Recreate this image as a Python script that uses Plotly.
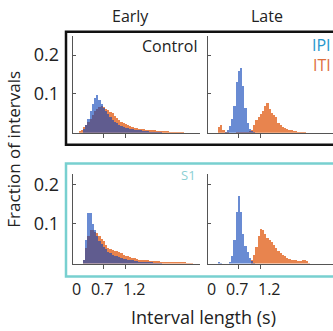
import plotly.graph_objects as go

# ---------------- data (fraction of intervals per 0.05 s bin) ----------------
BIN = 0.05

early_ctrl_ipi_start = 0.25
early_ctrl_ipi = [0.01, 0.02, 0.035, 0.055, 0.075, 0.09, 0.097, 0.085, 0.075, 0.065,
                  0.055, 0.048, 0.04, 0.034, 0.028, 0.024, 0.02, 0.017, 0.015, 0.013,
                  0.012, 0.01, 0.009, 0.008, 0.007, 0.006, 0.006, 0.005, 0.004, 0.004,
                  0.003, 0.003, 0.002, 0.002, 0.002, 0.001]
early_ctrl_iti_start = 0.15
early_ctrl_iti = [0.004, 0.008, 0.014, 0.02, 0.028, 0.036, 0.045, 0.055, 0.062, 0.066,
                  0.068, 0.066, 0.062, 0.058, 0.054, 0.05, 0.044, 0.038, 0.033, 0.029,
                  0.025, 0.022, 0.019, 0.017, 0.015, 0.013, 0.012, 0.011, 0.01, 0.009,
                  0.008, 0.008, 0.007, 0.006, 0.006, 0.005, 0.005, 0.005, 0.004, 0.004,
                  0.004, 0.003, 0.003, 0.003, 0.002, 0.002, 0.002, 0.002]

late_ctrl_ipi_start = 0.4
late_ctrl_ipi = [0.003, 0.008, 0.018, 0.035, 0.07, 0.13, 0.158, 0.168, 0.12, 0.065,
                 0.025, 0.01, 0.004, 0.002]
late_ctrl_iti_start = 0.2
late_ctrl_iti = [0.0, 0.015, 0.02, 0.008, 0.002, 0.001, 0.0, 0.0, 0.0, 0.001,
                 0.001, 0.002, 0.002, 0.002, 0.003, 0.004, 0.008, 0.02, 0.034, 0.042,
                 0.048, 0.056, 0.07, 0.078, 0.062, 0.052, 0.046, 0.04, 0.026, 0.02,
                 0.016, 0.012, 0.01, 0.008, 0.006, 0.005, 0.004, 0.003, 0.002, 0.002,
                 0.001]

early_s1_ipi_start = 0.25
early_s1_ipi = [0.008, 0.06, 0.128, 0.128, 0.1, 0.085, 0.07, 0.058, 0.05, 0.042,
                0.036, 0.03, 0.026, 0.023, 0.02, 0.018, 0.016, 0.014, 0.012, 0.011,
                0.01, 0.009, 0.008, 0.007, 0.006, 0.005, 0.005, 0.004, 0.004, 0.003,
                0.003, 0.003, 0.002, 0.002, 0.002, 0.002]
early_s1_iti_start = 0.25
early_s1_iti = [0.01, 0.04, 0.07, 0.085, 0.085, 0.08, 0.078, 0.07, 0.062, 0.056,
                0.046, 0.04, 0.036, 0.034, 0.033, 0.032, 0.03, 0.026, 0.022, 0.02,
                0.018, 0.016, 0.014, 0.013, 0.012, 0.01, 0.009, 0.009, 0.008, 0.008,
                0.007, 0.007, 0.006, 0.006, 0.006, 0.005, 0.005, 0.005, 0.004, 0.004,
                0.004, 0.004, 0.003, 0.003, 0.003, 0.003, 0.003, 0.002, 0.002, 0.002]

late_s1_ipi_start = 0.25
late_s1_ipi = [0.004, 0.002, 0.0, 0.0, 0.0, 0.003, 0.02, 0.06, 0.13, 0.17,
               0.13, 0.075, 0.045, 0.03, 0.015, 0.006, 0.002]
late_s1_iti_start = 1.0
late_s1_iti = [0.008, 0.022, 0.042, 0.07, 0.088, 0.085, 0.075, 0.065, 0.06, 0.054,
               0.046, 0.04, 0.032, 0.026, 0.022, 0.018, 0.015, 0.012, 0.01, 0.009,
               0.008, 0.007, 0.006, 0.008, 0.01, 0.006, 0.002]

x_tick_vals = [0, 0.7, 1.2]
x_tick_text = ["0", "0.7", "1.2"]
y_tick_vals = [0.1, 0.2]
y_tick_text = ["0.1", "0.2"]

# ---------------- styling ----------------
W, H = 333, 331
FONT = "Open Sans"
BLUE = "rgb(13,69,185)"
ORANGE = "rgb(232,132,78)"
AXC = "#555555"


def px(p):
    return p / W


def py(p):
    return 1 - p / H


def centers(start, vals):
    return [start + i * BIN for i in range(len(vals))]


fig = go.Figure()

panels = [
    ("x", "y", early_ctrl_iti_start, early_ctrl_iti, early_ctrl_ipi_start, early_ctrl_ipi),
    ("x2", "y2", late_ctrl_iti_start, late_ctrl_iti, late_ctrl_ipi_start, late_ctrl_ipi),
    ("x3", "y3", early_s1_iti_start, early_s1_iti, early_s1_ipi_start, early_s1_ipi),
    ("x4", "y4", late_s1_iti_start, late_s1_iti, late_s1_ipi_start, late_s1_ipi),
]
for xa, ya, s_iti, v_iti, s_ipi, v_ipi in panels:
    fig.add_trace(go.Bar(x=centers(s_iti, v_iti), y=v_iti, width=BIN,
                         marker=dict(color=ORANGE, line=dict(width=0)),
                         xaxis=xa, yaxis=ya, showlegend=False, hoverinfo="skip"))
    fig.add_trace(go.Bar(x=centers(s_ipi, v_ipi), y=v_ipi, width=BIN,
                         marker=dict(color=BLUE, line=dict(width=0)), opacity=0.62,
                         xaxis=xa, yaxis=ya, showlegend=False, hoverinfo="skip"))

xdom_early = [px(73), px(200)]
xdom_late = [px(208), 1.0]
ydom_top = [py(131), py(33)]
ydom_bot = [py(263), py(173)]
PXS = 44.0  # px per second
xr_early = [0, (200 - 73) / PXS]
xr_late = [0, (W - 208) / PXS]

xcommon = dict(showline=True, linecolor=AXC, linewidth=1.3, showgrid=False, zeroline=False,
               tickvals=x_tick_vals[1:], ticks="outside", ticklen=4, tickcolor=AXC,
               showticklabels=False)
ycommon = dict(showline=True, linecolor=AXC, linewidth=1.3, showgrid=False, zeroline=False,
               tickvals=y_tick_vals, ticktext=y_tick_text, ticks="inside", ticklen=3,
               tickcolor=AXC, tickfont=dict(family=FONT, size=18, color="#222"))

fig.update_layout(
    width=W, height=H, margin=dict(l=0, r=0, t=0, b=0),
    paper_bgcolor="white", plot_bgcolor="rgba(0,0,0,0)",
    barmode="overlay", bargap=0,
    xaxis=dict(domain=xdom_early, range=xr_early, anchor="y", **xcommon),
    xaxis2=dict(domain=xdom_late, range=xr_late, anchor="y2", **xcommon),
    xaxis3=dict(domain=xdom_early, range=xr_early, anchor="y3", **xcommon),
    xaxis4=dict(domain=xdom_late, range=xr_late, anchor="y4", **xcommon),
    yaxis=dict(domain=ydom_top, range=[0, 0.25], anchor="x", ticklabelstandoff=9, **ycommon),
    yaxis2=dict(domain=ydom_top, range=[0, 0.25], anchor="x2", showticklabels=False, **ycommon),
    yaxis3=dict(domain=ydom_bot, range=[0, 0.225], anchor="x3", ticklabelstandoff=9, **ycommon),
    yaxis4=dict(domain=ydom_bot, range=[0, 0.225], anchor="x4", showticklabels=False, **ycommon),
)

# frames around the two rows
fig.add_shape(type="rect", xref="paper", yref="paper", x0=px(66), x1=px(345), y0=py(143), y1=py(29),
              line=dict(color="#111111", width=2.5), fillcolor="rgba(0,0,0,0)", layer="above")
fig.add_shape(type="rect", xref="paper", yref="paper", x0=px(66), x1=px(345), y0=py(276), y1=py(162),
              line=dict(color="rgb(120,208,208)", width=2.5), fillcolor="rgba(0,0,0,0)", layer="above")


def ann(text, x, y, size=16, color="#222", xanchor="center", yanchor="middle", **kw):
    fig.add_annotation(text=text, x=x, y=y, xref="paper", yref="paper", showarrow=False,
                       xanchor=xanchor, yanchor=yanchor,
                       font=dict(family=FONT, size=size, color=color), **kw)


ann("Early", px(130), py(13))
ann("Late", px(267), py(13))
ann("Control", px(199), py(43), size=16, xanchor="right")
ann("IPI", 1.0, py(42), size=16, color="rgb(40,150,205)", xanchor="right")
ann("ITI", 1.0, py(63), size=16, color="rgb(222,110,60)", xanchor="right")
ann("S1", px(188), py(174), size=13, color="rgb(140,208,212)")
ann("Fraction of intervals", px(14), py(148), size=17, textangle=-90)
ann("Interval length (s)", px(203), 0.0, size=18, yanchor="bottom")

# x tick labels (placed slightly apart from the tick marks, as in the original)
label_shift = [3, -1, 9]
for xa in ["x3", "x4"]:
    for v, t, sh in zip(x_tick_vals, x_tick_text, label_shift):
        fig.add_annotation(text=t, x=v, xref=xa, y=py(289), yref="paper", xshift=sh,
                           showarrow=False, xanchor="center", yanchor="middle",
                           font=dict(family=FONT, size=16, color="#222"))

fig.write_html("out.html", config={"displayModeBar": False, "staticPlot": True},
               post_script="document.body.style.margin='0';")
